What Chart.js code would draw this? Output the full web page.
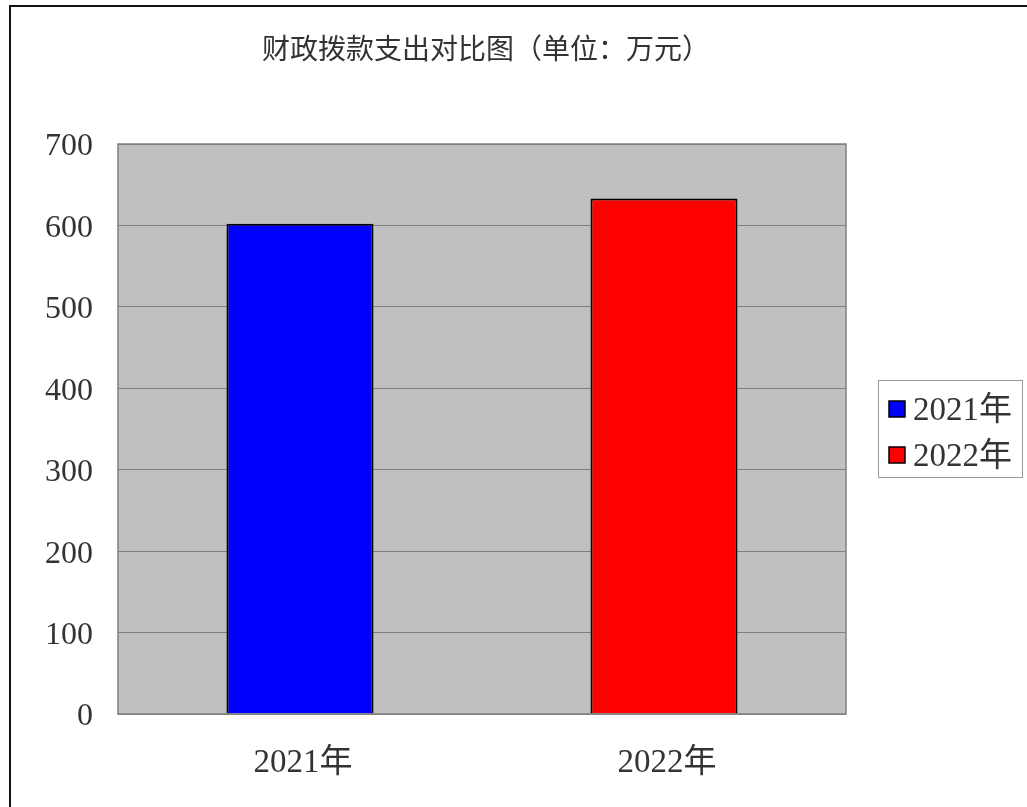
<!DOCTYPE html>
<html>
<head>
<meta charset="utf-8">
<script src="https://cdn.jsdelivr.net/npm/chart.js@4.4.1/dist/chart.umd.min.js"></script>
<style>
  html, body { margin: 0; padding: 0; background: #fff; }
  canvas { display: block; }
</style>
</head>
<body>
<canvas id="myChart" width="1027" height="807"></canvas>
<script>
// 数据
const categories = ['2021年', '2022年'];
const values = [602, 633];
const barColors = ['#0000FF', '#FF0000'];
const yTicks = [0, 100, 200, 300, 400, 500, 600, 700];
const titleText = '财政拨款支出对比图（单位：万元）';

const serif = "'Liberation Serif', 'Noto Sans CJK SC', serif";

(function () {
  const canvas = document.getElementById('myChart');
  if (!canvas || typeof Chart === 'undefined') return;

  // 外框 + 灰色绘图区 + 标题 + 图例
  const decor = {
    id: 'decor',
    beforeDraw(chart) {
      const { ctx, chartArea: a } = chart;
      ctx.save();
      ctx.fillStyle = '#fff';
      ctx.fillRect(0, 0, chart.width, chart.height);
      ctx.strokeStyle = '#111';
      ctx.lineWidth = 2;
      ctx.strokeRect(10, 6, chart.width + 20, chart.height + 20);
      ctx.fillStyle = '#C0C0C0';
      ctx.fillRect(a.left, a.top, a.right - a.left, a.bottom - a.top);
      ctx.fillStyle = '#333';
      ctx.font = "28px 'Noto Sans CJK SC'";
      ctx.textAlign = 'left';
      ctx.textBaseline = 'middle';
      ctx.fillText(titleText, 262, 48);
      ctx.restore();
    },
    afterDraw(chart) {
      const { ctx, chartArea: a } = chart;
      ctx.save();
      ctx.strokeStyle = '#808080';
      ctx.lineWidth = 1.5;
      ctx.strokeRect(a.left, a.top, a.right - a.left, a.bottom - a.top);
      // 图例
      ctx.strokeStyle = '#999';
      ctx.lineWidth = 1;
      ctx.strokeRect(878.5, 380.5, 144, 97);
      ctx.font = '33px ' + serif;
      ctx.textBaseline = 'middle';
      ctx.textAlign = 'left';
      categories.forEach((c, i) => {
        const y = 409 + i * 46;
        ctx.fillStyle = barColors[i];
        ctx.fillRect(889, y - 8, 16, 16);
        ctx.strokeStyle = '#000';
        ctx.lineWidth = 1.5;
        ctx.strokeRect(889, y - 8, 16, 16);
        ctx.fillStyle = '#333';
        ctx.fillText(c, 913, y + 2);
      });
      ctx.restore();
    }
  };

  new Chart(canvas, {
    type: 'bar',
    data: {
      labels: categories,
      datasets: [{
        data: values,
        backgroundColor: barColors,
        borderColor: '#000',
        borderWidth: 2,
        categoryPercentage: 1,
        barPercentage: 0.404
      }]
    },
    options: {
      responsive: false,
      animation: false,
      layout: { padding: { left: 10, top: 144, right: 181, bottom: 0 } },
      plugins: { legend: { display: false }, tooltip: { enabled: false }, title: { display: false } },
      scales: {
        x: {
          grid: { display: false },
          border: { display: false },
          ticks: { color: '#333', padding: 22, labelOffset: 3, font: { family: serif, size: 33 } },
          afterFit: s => { s.height = 93; }
        },
        y: {
          min: 0,
          max: 700,
          afterBuildTicks: s => { s.ticks = yTicks.map(v => ({ value: v })); },
          grid: { color: '#808080', lineWidth: 1, drawTicks: false },
          border: { display: false },
          ticks: { color: '#333', padding: 25, labelOffset: 3, font: { family: serif, size: 32 } },
          afterFit: s => { s.width = 108; }
        }
      }
    },
    plugins: [decor]
  });
})();
</script>
</body>
</html>
